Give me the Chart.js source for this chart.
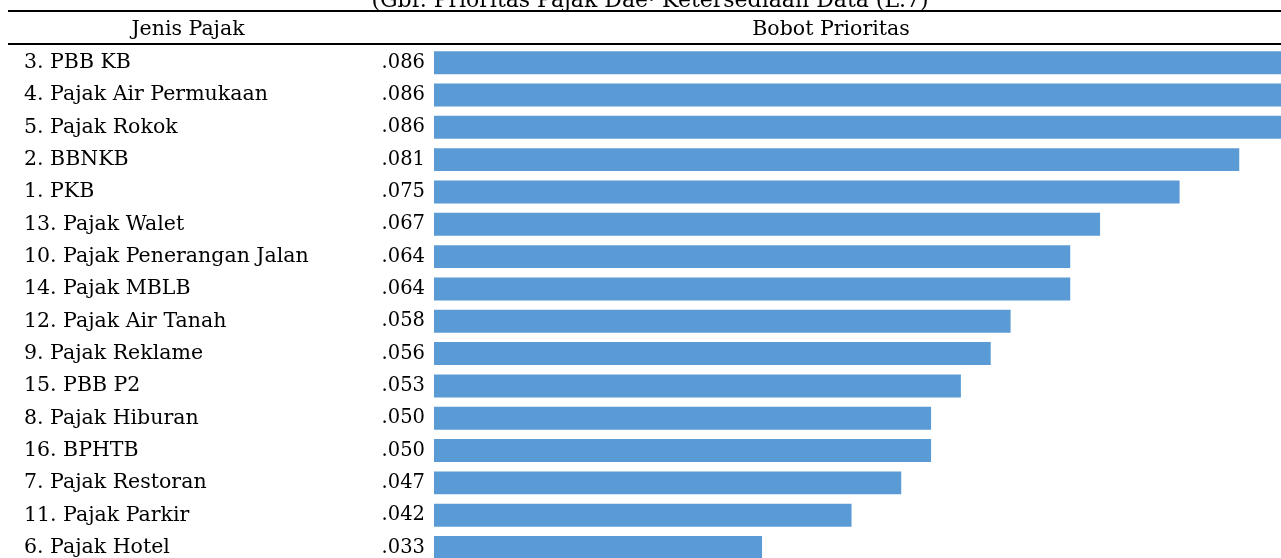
<!DOCTYPE html>
<html>
<head>
<meta charset="utf-8">
<script src="https://cdn.jsdelivr.net/npm/chart.js@4"></script>
<style>
  html, body { margin: 0; padding: 0; background: #fff; overflow: hidden; }
  canvas { display: block; }
</style>
</head>
<body>
<canvas id="chart" width="1281" height="576"></canvas>
<script>
const categories = [
  "3. PBB KB", "4. Pajak Air Permukaan", "5. Pajak Rokok", "2. BBNKB", "1. PKB",
  "13. Pajak Walet", "10. Pajak Penerangan Jalan", "14. Pajak MBLB", "12. Pajak Air Tanah",
  "9. Pajak Reklame", "15. PBB P2", "8. Pajak Hiburan", "16. BPHTB", "7. Pajak Restoran",
  "11. Pajak Parkir", "6. Pajak Hotel"
];
const weights = [0.086, 0.086, 0.086, 0.081, 0.075, 0.067, 0.064, 0.064, 0.058, 0.056, 0.053, 0.050, 0.050, 0.047, 0.042, 0.033];
const headers = ["Jenis Pajak", "Bobot Prioritas"];
const title = "(Gbr. Prioritas Pajak Dae\u00b7 Ketersediaan Data (L.7)";

const SERIF = '"DejaVu Serif", serif';

// header rules, header labels and the value column
const tablePlugin = {
  id: "table",
  afterDatasetsDraw(chart) {
    const ctx = chart.ctx;
    const area = chart.chartArea;
    ctx.save();
    ctx.fillStyle = "#000";
    ctx.textAlign = "center";
    ctx.textBaseline = "alphabetic";
    ctx.font = "22px " + SERIF;
    ctx.fillText(title, 650, 7);

    ctx.strokeStyle = "#000";
    ctx.lineWidth = 2;
    ctx.beginPath();
    ctx.moveTo(8, 11); ctx.lineTo(chart.width, 11);
    ctx.moveTo(8, 44); ctx.lineTo(chart.width, 44);
    ctx.stroke();

    ctx.font = "20.5px " + SERIF;
    ctx.textBaseline = "middle";
    ctx.fillText(headers[0], 188, 30);
    ctx.fillText(headers[1], 831, 30);

    ctx.font = "19.5px " + SERIF;
    ctx.textAlign = "right";
    const meta = chart.getDatasetMeta(0);
    meta.data.forEach((bar, i) => {
      const txt = weights[i].toFixed(3).replace(/^0/, "");
      ctx.fillText(txt, area.left - 9, bar.y);
    });
    ctx.restore();
  }
};

new Chart(document.getElementById("chart"), {
  type: "bar",
  data: {
    labels: categories,
    datasets: [{
      data: weights,
      backgroundColor: "#5B9BD5",
      barPercentage: 0.71,
      categoryPercentage: 1.0
    }]
  },
  options: {
    indexAxis: "y",
    responsive: false,
    animation: false,
    layout: { padding: { top: 46.5, left: 24, right: 0, bottom: 0 } },
    plugins: {
      legend: { display: false },
      tooltip: { enabled: false }
    },
    scales: {
      x: { display: false, min: 0, max: 0.0852 },
      y: {
        grid: { display: false },
        border: { display: false },
        ticks: {
          color: "#000",
          font: { family: SERIF, size: 20.5 },
          crossAlign: "far",
          padding: 0,
          autoSkip: false
        },
        afterFit(scale) { scale.width = 410; }
      }
    }
  },
  plugins: [tablePlugin]
});
</script>
</body>
</html>
